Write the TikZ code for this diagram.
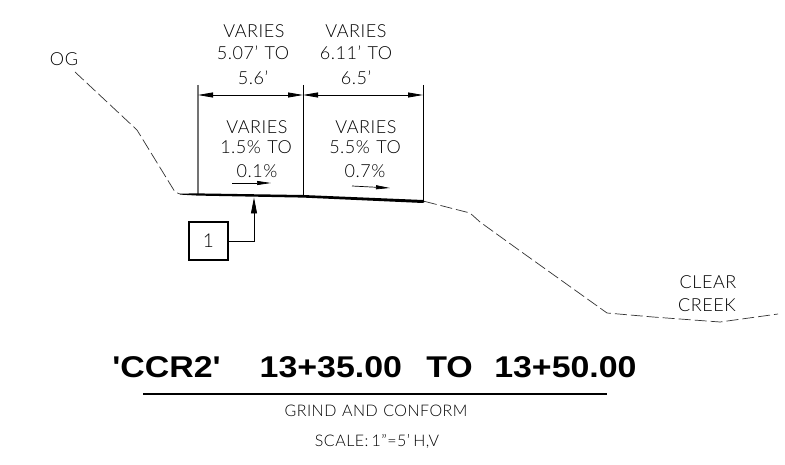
\documentclass[tikz,border=0pt]{standalone}
\usepackage{fontspec}
\usetikzlibrary{arrows.meta}
\setmainfont{Lato}[UprightFont=* Light,LetterSpace=3]
\newfontfamily\titlefont{Liberation Sans Bold}
\tikzset{
  lbl/.style={inner sep=0pt,font=\fontsize{18}{18}\selectfont,text=black},
  small/.style={inner sep=0pt,font=\fontsize{16}{16}\selectfont,text=black},
  ground/.style={draw=black!80,line width=0.7pt,dash pattern=on 12pt off 4pt},
  ext/.style={draw=black,line width=0.8pt},
  dim/.style={draw=black,line width=0.8pt,{Triangle[length=15pt,width=5pt]}-{Triangle[length=15pt,width=5pt]}},
  slope/.style={draw=black,line width=0.7pt,-{Triangle[length=14pt,width=4pt]}},
  leader/.style={draw=black,line width=0.9pt,-{Triangle[length=16pt,width=6pt]}},
  tagbox/.style={draw=black,line width=1.2pt,minimum width=39pt,minimum height=38pt,inner sep=0pt,font=\fontsize{19}{19}\selectfont}
}
\begin{document}
\begin{tikzpicture}[x=1pt,y=-1pt]
\useasboundingbox[fill=white] (0,0) rectangle (785,465);
% extension line coordinates
\coordinate (e1t) at (198,85); \coordinate (e1b) at (198,195);
\coordinate (e2t) at (303,85); \coordinate (e2b) at (303,196);
\coordinate (e3t) at (423,85); \coordinate (e3b) at (423,201);
\coordinate (d1) at (198,95); \coordinate (d2) at (303,95); \coordinate (d3) at (423,95);
\draw[ext,draw=black!55,line width=1.1pt] (e1t) -- (e1b);
\draw[ext] (e2t) -- (e2b);
\draw[ext] (e3t) -- (e3b);
\draw[dim] (d1) -- (d2);
\draw[dim] (d2) -- (d3);
% pavement
\fill[black] (180,193.6) -- (198,193.4) -- (303,195) -- (423,200) -- (425,201.5) -- (423,203) -- (303,197.6) -- (198,195.6) -- (180,194.6) -- cycle;
% ground lines
\draw[ground] (75,72) -- (137,130) -- (175,192) -- (180,194);
\draw[ground] (425,201.5) -- (470,213) -- (480,222) -- (523,253) -- (607,313) -- (653,317) -- (720,322) -- (778,314);
% slope arrows
\coordinate (s1a) at (232,183); \coordinate (s1b) at (271,183);
\coordinate (s2a) at (352,186); \coordinate (s2b) at (390,188);
\draw[slope] (s1a) -- (s1b);
\draw[slope] (s2a) -- (s2b);
% tag
\node[tagbox] (tag) at (208.5,241) {1};
\coordinate (tagtip) at (254,197.5);
\draw[leader] (tag.east) -| (tagtip);
% labels
\node[lbl] (a1) at (254,31) {VARIES};
\node[lbl] (a2) at (253,53) {5.07'\hspace{0.35em}TO};
\node[lbl] (a3) at (253,78) {5.6'};
\node[lbl] (b1) at (356,31) {VARIES};
\node[lbl] (b2) at (356,53) {6.11'\hspace{0.35em}TO};
\node[lbl] (b3) at (356,78) {6.5'};
\node[lbl] (c1) at (257,127) {VARIES};
\node[lbl] (c2) at (256,147) {1.5\%\hspace{0.35em}TO};
\node[lbl] (c3) at (257,171) {0.1\%};
\node[lbl] (f1) at (366,127) {VARIES};
\node[lbl] (f2) at (365,147) {5.5\%\hspace{0.35em}TO};
\node[lbl] (f3) at (365,171) {0.7\%};
\node[lbl] (og) at (64,59) {OG};
\node[lbl] (clear) at (708,282) {CLEAR};
\node[lbl] (creek) at (707,305) {CREEK};
% title
\node[inner sep=0pt,anchor=center] (title) at (374.5,367) {\scalebox{1.13}[1]{\titlefont\fontsize{30}{30}\selectfont 'CCR2'\hspace{34.5pt}13+35.00\hspace{21.5pt}TO\hspace{19pt}13+50.00}};
\coordinate (r1) at (143,394); \coordinate (r2) at (607,394);
\draw[black,line width=1.2pt] (r1) -- (r2);
\node[small] (sub) at (376,411) {GRIND\hspace{0.35em}AND\hspace{0.35em}CONFORM};
\node[small] (scale) at (377,441) {SCALE:\hspace{0.2em}1"=5'\hspace{0.2em}H,V};
\end{tikzpicture}
\end{document}
